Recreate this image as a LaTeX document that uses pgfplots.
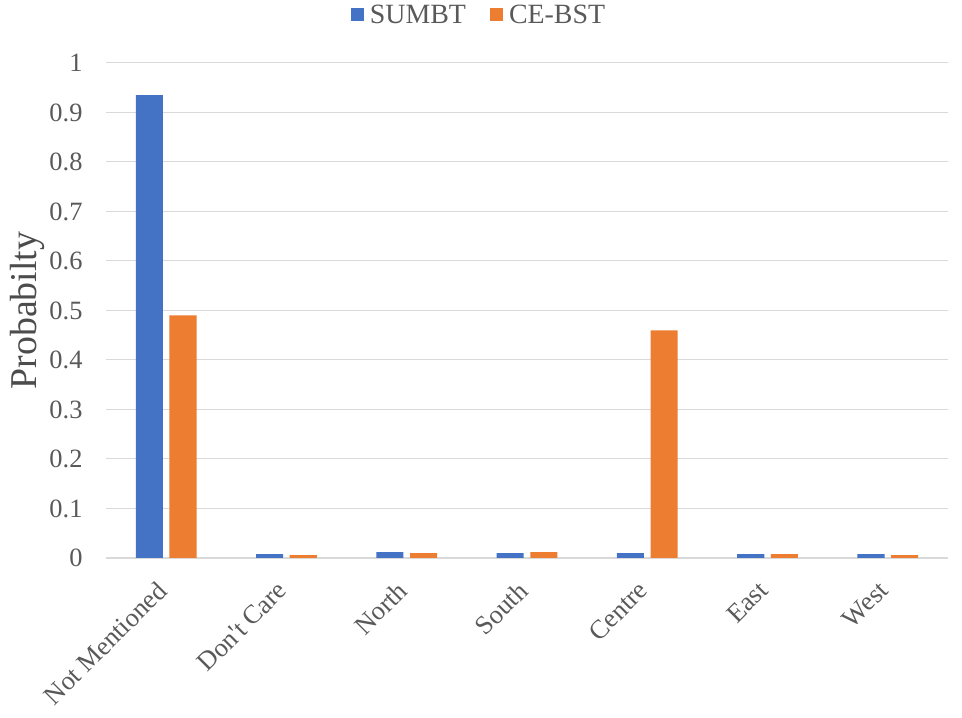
\documentclass[border=0pt]{standalone}
\usepackage{fontspec}
\setmainfont{Liberation Serif}
\usepackage{pgfplots}
\pgfplotsset{compat=1.18}
\definecolor{cBlue}{HTML}{4472C4}
\definecolor{cOrange}{HTML}{ED7D31}
\definecolor{cGrid}{HTML}{D9D9D9}
\definecolor{cText}{HTML}{595959}

\begin{document}
\begin{tikzpicture}
\useasboundingbox (0,0) rectangle (962bp,718bp);
\begin{axis}[
    at={(106bp,160bp)}, anchor=south west,
    scale only axis, width=842bp, height=495bp,
    xmin=-0.5, xmax=6.5, ymin=0, ymax=1,
    ytick={0,0.1,...,1.0},
    yticklabels={0,0.1,0.2,0.3,0.4,0.5,0.6,0.7,0.8,0.9,1},
    xtick={0,...,6},
    xticklabels={Not Mentioned,Don\textquotesingle t Care,North,South,Centre,East,West},
    major tick length=0pt,
    axis x line*=bottom, axis y line*=left,
    x axis line style={cGrid, line width=1.5bp, -},
    y axis line style={draw=none},
    ymajorgrids, grid style={cGrid, line width=1bp},
    /pgf/number format/assume math mode=true,
    tick label style={font=\fontsize{26.5}{30}\selectfont, text=cText},
    yticklabel style={anchor=east, xshift=-20bp},
    xticklabel style={rotate=45, anchor=north east, yshift=-4.5bp, xshift=-19.5bp},
    ylabel={Probabilty},
    ylabel style={font=\fontsize{38}{42}\selectfont, text=cText!85!black, at={(axis description cs:-0.093,0.5)}, anchor=center},
    legend columns=2,
    legend style={at={(0.443,1.097)}, anchor=center, draw=none, fill=none,
        font=\fontsize{28}{30}\selectfont, text=cText,
        /tikz/every even column/.append style={column sep=22bp}},
    legend image code/.code={\fill[#1] (0bp,-6bp) rectangle (13bp,7bp); \path (17bp,0bp);},
]
\addplot[ybar, bar width=0.225, bar shift=-0.14, fill=cBlue, draw=none] coordinates {
  (0,0.935) (1,0.008) (2,0.012) (3,0.010) (4,0.010) (5,0.008) (6,0.008)};
\addlegendentry{SUMBT}
\addplot[ybar, bar width=0.225, bar shift=0.14, fill=cOrange, draw=none] coordinates {
  (0,0.490) (1,0.006) (2,0.010) (3,0.012) (4,0.460) (5,0.008) (6,0.006)};
\addlegendentry{CE-BST}
\end{axis}
\end{tikzpicture}
\end{document}
